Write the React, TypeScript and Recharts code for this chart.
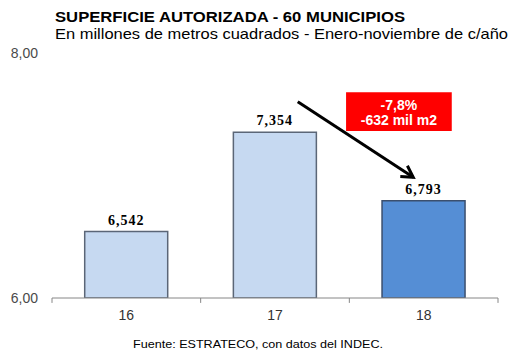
import React from 'react';
import { BarChart, Bar, XAxis, YAxis, Cell, LabelList, ReferenceLine, ReferenceArea } from 'recharts';

const years = ['16', '17', '18'];
const values = [6.542, 7.354, 6.793];
const positions = [0.5, 1.5, 2.5];
const yTicks = [6, 8];
const boundaries = [0, 1, 2, 3];
const barFills = ['#C6D9F1', '#C6D9F1', '#558ED5'];
const barStrokes = ['#5B6677', '#5B6677', '#3B4F6E'];
const boxText = ['-7,8%', '-632 mil m2'];
const boxArea = { x1: 1.978, x2: 2.689, y1: 7.363, y2: 7.679 };
const arrowFrom = { x: 1.653, y: 7.602 };
const arrowTo = { x: 2.43, y: 6.985 };

const data = years.map((y, i) => ({ year: y, value: values[i], pos: positions[i] }));

const fmt = (v: number, d: number) => v.toFixed(d).replace('.', ',');

const Arrow = (props: any) => {
  const { x1, y1, x2, y2 } = props;
  const ang = Math.atan2(y2 - y1, x2 - x1);
  const len = 13;
  const spread = Math.PI / 6;
  const ax = x2 - len * Math.cos(ang - spread);
  const ay = y2 - len * Math.sin(ang - spread);
  const bx = x2 - len * Math.cos(ang + spread);
  const by = y2 - len * Math.sin(ang + spread);
  return (
    <g>
      <line x1={x1} y1={y1} x2={x2} y2={y2} stroke="#000" strokeWidth={3} />
      <polyline points={`${ax},${ay} ${x2},${y2} ${bx},${by}`} fill="none" stroke="#000" strokeWidth={3} strokeLinejoin="miter" />
    </g>
  );
};

const BoxLabel = (props: any) => {
  const vb = props.viewBox || {};
  const cx = vb.x + vb.width / 2;
  const cy = vb.y + vb.height / 2;
  return (
    <g>
      <text x={cx} y={cy - 2} textAnchor="middle" fill="#fff" fontFamily="Liberation Sans, Arial, sans-serif" fontWeight="bold" fontSize={14}>{boxText[0]}</text>
      <text x={cx} y={cy + 13} textAnchor="middle" fill="#fff" fontFamily="Liberation Sans, Arial, sans-serif" fontWeight="bold" fontSize={14}>{boxText[1]}</text>
    </g>
  );
};

const ValueLabel = (props: any) => {
  const { x, y, width, value } = props;
  return (
    <text x={x + width / 2} y={y - 7} textAnchor="middle" fill="#000" fontFamily="'Liberation Serif', 'Times New Roman', serif" fontWeight="bold" fontSize={14} letterSpacing={1}>
      {fmt(Number(value), 3)}
    </text>
  );
};

export default function App() {
  return (
    <div style={{ position: 'absolute', left: 0, top: 0, width: 530, height: 354, background: '#fff' }}>
      <svg width={530} height={354} style={{ position: 'absolute', left: 0, top: 0 }}>
        <text x={55} y={22} fontFamily="Liberation Sans, Arial, sans-serif" fontWeight="bold" fontSize={14} textLength={350} lengthAdjust="spacingAndGlyphs" fill="#000">
          SUPERFICIE AUTORIZADA - 60 MUNICIPIOS
        </text>
        <text x={55} y={39} fontFamily="Liberation Sans, Arial, sans-serif" fontSize={15} textLength={453} lengthAdjust="spacingAndGlyphs" fill="#000">
          En millones de metros cuadrados - Enero-noviembre de c/año
        </text>
        <text x={133} y={348} fontFamily="Liberation Sans, Arial, sans-serif" fontSize={11} textLength={250} lengthAdjust="spacingAndGlyphs" fill="#000">
          Fuente: ESTRATECO, con datos del INDEC.
        </text>
      </svg>
      <div style={{ position: 'absolute', left: 0, top: 0 }}>
        <BarChart width={530} height={354} data={data} margin={{ top: 53, right: 32, bottom: 0, left: 0 }} barCategoryGap="22%">
          <XAxis dataKey="year" height={56} axisLine={{ stroke: '#868686' }} tickLine={false} tickSize={5} tickMargin={7} tick={{ fill: '#333', fontSize: 14, fontFamily: 'Liberation Sans, Arial, sans-serif' }} />
          <XAxis xAxisId="num" type="number" dataKey="pos" domain={[0, 3]} hide />
          <YAxis domain={[6, 8]} ticks={yTicks} width={52} axisLine={false} tickLine={false} tickMargin={8} allowDataOverflow tickFormatter={(v: number) => fmt(v, 2)} tick={{ fill: '#4a4a4a', fontSize: 14, fontFamily: 'Liberation Sans, Arial, sans-serif' }} />
          <Bar dataKey="value" isAnimationActive={false} strokeWidth={1.5}>
            {data.map((d, i) => (
              <Cell key={d.year} fill={barFills[i]} stroke={barStrokes[i]} />
            ))}
            <LabelList dataKey="value" content={<ValueLabel />} />
          </Bar>
          {boundaries.map((b) => (
            <ReferenceLine key={b} xAxisId="num" ifOverflow="visible" segment={[{ x: b, y: 6 }, { x: b, y: 5.96 }]} stroke="#868686" strokeWidth={1} />
          ))}
          <ReferenceArea xAxisId="num" x1={boxArea.x1} x2={boxArea.x2} y1={boxArea.y1} y2={boxArea.y2} fill="#FF0000" fillOpacity={1} stroke="none" ifOverflow="visible" label={(p: any) => <BoxLabel {...p} />} />
          <ReferenceLine xAxisId="num" ifOverflow="visible" segment={[arrowFrom, arrowTo]} shape={(p: any) => <Arrow {...p} />} />
        </BarChart>
      </div>
    </div>
  );
}
